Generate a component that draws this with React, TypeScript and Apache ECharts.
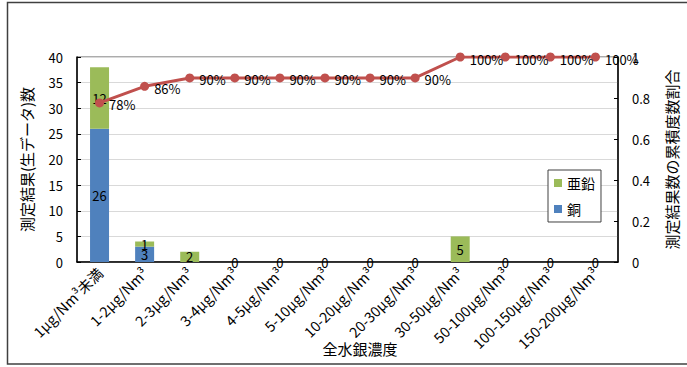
import React, { useEffect, useRef } from "react";
import * as echarts from "echarts";

const categories = [
  "1μg/Nm³未満",
  "1-2μg/Nm³",
  "2-3μg/Nm³",
  "3-4μg/Nm³",
  "4-5μg/Nm³",
  "5-10μg/Nm³",
  "10-20μg/Nm³",
  "20-30μg/Nm³",
  "30-50μg/Nm³",
  "50-100μg/Nm³",
  "100-150μg/Nm³",
  "150-200μg/Nm³",
];
const copper = [26, 3, 0, 0, 0, 0, 0, 0, 0, 0, 0, 0];
const zinc = [12, 1, 2, 0, 0, 0, 0, 0, 5, 0, 0, 0];
const cumulative = [0.776, 0.857, 0.898, 0.898, 0.898, 0.898, 0.898, 0.898, 1.0, 1.0, 1.0, 1.0];
const leftTicks = { min: 0, max: 40, interval: 5 };
const rightTicks = { min: 0, max: 1, interval: 0.2 };

const FONT = "'Noto Sans CJK JP', 'Noto Sans', sans-serif";

export default function App() {
  const ref = useRef<HTMLDivElement>(null);
  useEffect(() => {
    if (!ref.current) return;
    const chart = echarts.init(ref.current, undefined, { renderer: "svg" });
    chart.setOption({
      animation: false,
      textStyle: { fontFamily: FONT, color: "#000" },
      grid: {
        left: 77,
        top: 57,
        right: 63,
        bottom: 105,
        show: true,
        borderColor: "#595959",
        borderWidth: 1,
        backgroundColor: "transparent",
      },
      legend: {
        orient: "vertical",
        left: 548,
        top: 170,
        data: ["亜鉛", "銅"],
        itemWidth: 8,
        itemHeight: 8,
        itemGap: 12,
        borderColor: "#404040",
        borderWidth: 1,
        borderRadius: 0,
        padding: [6, 6, 6, 6],
        backgroundColor: "#fff",
        textStyle: { fontFamily: FONT, fontSize: 14, color: "#000" },
        icon: "rect",
      },
      xAxis: {
        type: "category",
        data: categories,
        boundaryGap: true,
        axisLine: { lineStyle: { color: "#000", width: 1.5 } },
        axisTick: { inside: true, length: 5, lineStyle: { color: "#000" } },
        axisLabel: {
          interval: 0,
          rotate: 45,
          margin: 8,
          fontSize: 14.5,
          fontFamily: FONT,
          color: "#000",
        },
      },
      yAxis: [
        {
          type: "value",
          ...leftTicks,
          name: "測定結果(生データ)数",
          nameLocation: "middle",
          nameRotate: 90,
          nameGap: 43,
          nameTextStyle: { fontFamily: FONT, fontSize: 15, color: "#000" },
          axisLine: { show: true, lineStyle: { color: "#000", width: 1.5 } },
          axisTick: { show: true, inside: true, length: 4, lineStyle: { color: "#000" } },
          axisLabel: { fontSize: 13, margin: 14, color: "#000", fontFamily: FONT },
          splitLine: { lineStyle: { color: "#D9D9D9" } },
        },
        {
          type: "value",
          ...rightTicks,
          position: "right",
          name: "測定結果数の累積度数割合",
          nameLocation: "middle",
          nameRotate: 90,
          nameGap: 46,
          nameTextStyle: { fontFamily: FONT, fontSize: 15, color: "#000" },
          axisLine: { show: true, lineStyle: { color: "#000", width: 1.5 } },
          axisTick: { show: true, inside: true, length: 4, lineStyle: { color: "#000" } },
          axisLabel: {
            fontSize: 13,
            margin: 14,
            color: "#000",
            fontFamily: FONT,
            formatter: (v: number) => String(Math.round(v * 10) / 10),
          },
          splitLine: { show: false },
        },
      ],
      series: [
        {
          name: "銅",
          type: "bar",
          stack: "total",
          data: copper,
          barWidth: 19,
          itemStyle: { color: "#4F81BD" },
          label: {
            show: true,
            position: "inside",
            fontSize: 13,
            color: "#000",
            fontFamily: FONT,
            formatter: (p: any) => (p.value === 0 ? "" : String(p.value)),
          },
        },
        {
          name: "亜鉛",
          type: "bar",
          stack: "total",
          data: zinc,
          barWidth: 19,
          itemStyle: { color: "#9BBB59" },
          label: {
            show: true,
            position: "inside",
            fontSize: 13,
            color: "#000",
            fontFamily: FONT,
            formatter: (p: any) => String(p.value),
          },
        },
        {
          name: "累積",
          type: "line",
          yAxisIndex: 1,
          data: cumulative,
          symbol: "circle",
          symbolSize: 9,
          itemStyle: { color: "#C0504D" },
          lineStyle: { color: "#C0504D", width: 3 },
          label: {
            show: true,
            position: "right",
            offset: [0, 2],
            fontSize: 13,
            color: "#000",
            fontFamily: FONT,
            formatter: (p: any) => Math.round(p.value * 100) + "%",
          },
          z: 5,
        },
      ],
      graphic: [
        {
          type: "rect",
          shape: { x: 7.5, y: 2.5, width: 720, height: 361.5 },
          style: { fill: "none", stroke: "#404040", lineWidth: 1.5 },
          silent: true,
        },
        {
          type: "text",
          x: 360,
          y: 348,
          style: {
            text: "全水銀濃度",
            fontFamily: FONT,
            fontSize: 15,
            fill: "#000",
            align: "center",
            verticalAlign: "middle",
          },
        },
      ],
    });
    return () => chart.dispose();
  }, []);
  return (
    <div
      ref={ref}
      style={{ position: "fixed", left: 0, top: 0, width: 687, height: 367, background: "#fff" }}
    />
  );
}
